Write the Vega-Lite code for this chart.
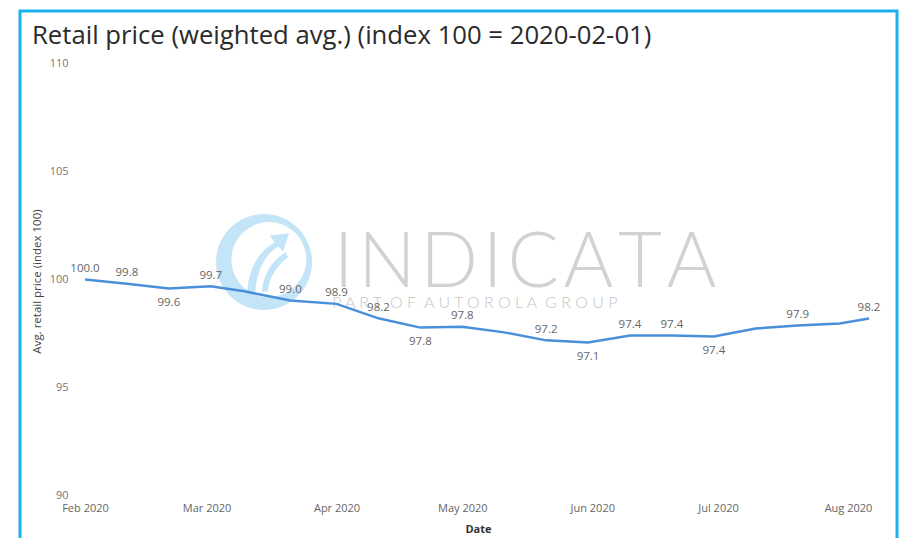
{
  "$schema": "https://vega.github.io/schema/vega-lite/v6.json",
  "width": 877,
  "height": 530,
  "autosize": {"type": "none"},
  "padding": {"left": 20, "top": 11, "right": 2, "bottom": 0},
  "background": "white",
  "title": {
    "text": "Retail price (weighted avg.) (index 100 = 2020-02-01)",
    "anchor": "start",
    "frame": "group",
    "orient": "top",
    "offset": -59,
    "dx": 12,
    "baseline": "alphabetic",
    "font": "Open Sans",
    "fontSize": 25.7,
    "fontWeight": "normal",
    "color": "#2b2b2b"
  },
  "config": {
    "font": "Open Sans",
    "view": {"stroke": "#1ab0ec", "strokeWidth": 3}
  },
  "datasets": {
    "series": [
      {"date": "2020-02-01T00:00:00", "value": 100.0, "labeled": true},
      {"date": "2020-02-11T00:00:00", "value": 99.8, "labeled": true},
      {"date": "2020-02-21T00:00:00", "value": 99.58, "labeled": true},
      {"date": "2020-03-02T00:00:00", "value": 99.68, "labeled": true},
      {"date": "2020-03-10T00:00:00", "value": 99.45, "labeled": false},
      {"date": "2020-03-21T00:00:00", "value": 99.03, "labeled": true},
      {"date": "2020-04-01T00:00:00", "value": 98.87, "labeled": true},
      {"date": "2020-04-11T00:00:00", "value": 98.2, "labeled": true},
      {"date": "2020-04-21T00:00:00", "value": 97.77, "labeled": true},
      {"date": "2020-05-01T00:00:00", "value": 97.81, "labeled": true},
      {"date": "2020-05-11T00:00:00", "value": 97.55, "labeled": false},
      {"date": "2020-05-21T00:00:00", "value": 97.18, "labeled": true},
      {"date": "2020-05-31T00:00:00", "value": 97.08, "labeled": true},
      {"date": "2020-06-10T00:00:00", "value": 97.41, "labeled": true},
      {"date": "2020-06-20T00:00:00", "value": 97.4, "labeled": true},
      {"date": "2020-06-30T00:00:00", "value": 97.36, "labeled": true},
      {"date": "2020-07-10T00:00:00", "value": 97.73, "labeled": false},
      {"date": "2020-07-20T00:00:00", "value": 97.87, "labeled": true},
      {"date": "2020-07-30T00:00:00", "value": 97.96, "labeled": false},
      {"date": "2020-08-06T00:00:00", "value": 98.19, "labeled": true}
    ],
    "grid": [{"g": 90}, {"g": 95}, {"g": 100}, {"g": 105}, {"g": 110}]
  },
  "encoding": {
    "x": {
      "field": "date",
      "type": "temporal",
      "scale": {"domain": [{"year": 2020, "month": 1, "date": 16, "hours": 12}, {"year": 2020, "month": 8, "date": 12, "hours": 16, "minutes": 35}]},
      "axis": {
        "values": [
          {"year": 2020, "month": 2, "date": 1},
          {"year": 2020, "month": 3, "date": 1},
          {"year": 2020, "month": 4, "date": 1},
          {"year": 2020, "month": 5, "date": 1},
          {"year": 2020, "month": 6, "date": 1},
          {"year": 2020, "month": 7, "date": 1},
          {"year": 2020, "month": 8, "date": 1}
        ],
        "format": "%b %Y",
        "orient": "bottom",
        "offset": -45.5,
        "domain": false,
        "ticks": false,
        "grid": false,
        "labelPadding": 7,
        "labelFontSize": 11,
        "labelColor": "#666666",
        "labelFlush": false,
        "labelOverlap": false,
        "title": "Date",
        "titleFontSize": 11,
        "titleFontWeight": "bold",
        "titleColor": "#333333",
        "titleX": 458,
        "titleY": 28,
        "titleBaseline": "top",
        "titleAlign": "center"
      }
    },
    "y": {
      "field": "value",
      "type": "quantitative",
      "scale": {"domain": [87.89, 112.43], "zero": false, "nice": false},
      "axis": {
        "values": [90, 95, 100, 105, 110],
        "orient": "left",
        "offset": -51,
        "domain": false,
        "ticks": false,
        "grid": false,
        "labelPadding": 3,
        "labelFontSize": 11,
        "labelColor": "#777777",
        "title": "Avg. retail price (index 100)",
        "titleFontSize": 11.5,
        "titleFontWeight": "normal",
        "titleColor": "#444444",
        "titleX": -33.5,
        "titleY": 270,
        "titleAngle": -90,
        "titleBaseline": "middle",
        "titleAlign": "center"
      }
    }
  },
  "layer": [
    {
      "data": {"name": "grid"},
      "mark": {"type": "rule", "stroke": "#c8c8c8", "strokeDash": [1, 2.5], "strokeWidth": 1},
      "encoding": {
        "x": {"datum": {"year": 2020, "month": 1, "date": 29}, "type": "temporal"},
        "x2": {"datum": {"year": 2020, "month": 8, "date": 8}},
        "y": {"field": "g", "type": "quantitative", "title": "Avg. retail price (index 100)"}
      }
    },
    {
      "data": {"values": [{"date": "2020-03-14T17:00:00", "value": 100.81}]},
      "mark": {
        "type": "point",
        "shape": "M1,0 A1,1 0 1,1 -1,0 A1,1 0 1,1 1,0 Z M0.88,-0.05 A0.78,0.78 0 1,0 -0.68,-0.05 A0.78,0.78 0 1,0 0.88,-0.05 Z M-0.35,0.6 C-0.3,0 0,-0.3 0.22,-0.4 L0.12,-0.55 L0.52,-0.6 L0.4,-0.22 L0.3,-0.32 C0.05,-0.18 -0.15,0.15 -0.18,0.62 Z M-0.05,0.62 C0,0.2 0.2,-0.05 0.45,-0.2 L0.5,-0.1 C0.3,0.05 0.1,0.3 0.08,0.62 Z",
        "filled": true,
        "color": "#c4e5f7",
        "strokeWidth": 0,
        "size": 9216,
        "opacity": 1
      }
    },
    {
      "data": {"values": [{"date": "2020-05-16T00:00:00", "value": 99.63, "label": "I\u200aN\u200aD\u200aI\u200aC\u200aA\u200aT\u200aA"}]},
      "mark": {"type": "text", "font": "Lato", "fontWeight": 300, "fontSize": 76, "color": "#d2d2d2", "align": "center", "baseline": "alphabetic"},
      "encoding": {"text": {"field": "label"}}
    },
    {
      "data": {"values": [{"date": "2020-05-04T00:00:00", "value": 98.68, "label": "P A R T\u2002O F\u2002A U T O R O L A\u2002G R O U P"}]},
      "mark": {"type": "text", "font": "Lato", "fontWeight": 300, "fontSize": 16, "color": "#c6c6c6", "align": "center", "baseline": "alphabetic"},
      "encoding": {"text": {"field": "label"}}
    },
    {
      "data": {"name": "series"},
      "mark": {"type": "line", "color": "#4a8fd9", "strokeWidth": 2.5}
    },
    {
      "data": {"name": "series"},
      "transform": [
        {"window": [{"op": "lag", "field": "value", "as": "prev"}, {"op": "lead", "field": "value", "as": "next"}], "sort": [{"field": "date"}]},
        {"calculate": "datum.prev != null && datum.next != null && datum.value < datum.prev && datum.value < datum.next", "as": "below"},
        {"filter": "datum.labeled && !datum.below"}
      ],
      "mark": {"type": "text", "dy": -10.5, "baseline": "middle", "align": "center", "fontSize": 11.5, "color": "#666666"},
      "encoding": {"text": {"field": "value", "type": "quantitative", "format": ".1f"}}
    },
    {
      "data": {"name": "series"},
      "transform": [
        {"window": [{"op": "lag", "field": "value", "as": "prev"}, {"op": "lead", "field": "value", "as": "next"}], "sort": [{"field": "date"}]},
        {"calculate": "datum.prev != null && datum.next != null && datum.value < datum.prev && datum.value < datum.next", "as": "below"},
        {"filter": "datum.labeled && datum.below"}
      ],
      "mark": {"type": "text", "dy": 14.5, "baseline": "middle", "align": "center", "fontSize": 11.5, "color": "#666666"},
      "encoding": {"text": {"field": "value", "type": "quantitative", "format": ".1f"}}
    }
  ]
}
